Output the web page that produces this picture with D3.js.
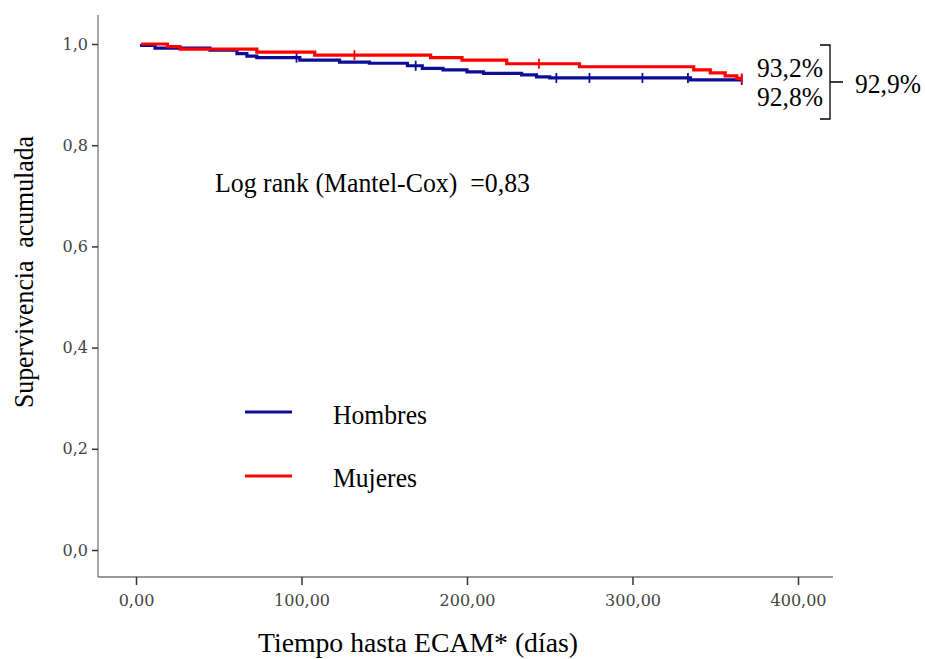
<!DOCTYPE html>
<html><head><meta charset="utf-8">
<script src="https://cdnjs.cloudflare.com/ajax/libs/d3/7.8.5/d3.min.js"></script>
<style>body{margin:0;background:#fff}</style>
</head><body>
<script>
// Data
const hombresTime = [2.4, 11.5, 44.7, 61, 67, 73, 99, 123, 141, 164, 173, 185.5, 200, 210, 233, 242, 250, 335, 366];
const hombresSurv = [0.997, 0.992, 0.988, 0.981, 0.976, 0.973, 0.968, 0.964, 0.962, 0.957, 0.952, 0.949, 0.945, 0.942, 0.939, 0.935, 0.933, 0.929, 0.929];
const hombresCensor = [97, 169, 254, 274, 306, 333.5, 366];
const mujeresTime = [3, 19, 26.6, 73, 108, 178, 197, 224, 268, 337, 347, 356, 363, 366];
const mujeresSurv = [1.0, 0.995, 0.990, 0.984, 0.978, 0.973, 0.968, 0.961, 0.955, 0.949, 0.943, 0.937, 0.932, 0.932];
const mujeresCensor = [132, 243.5, 366];
const xTicks = [0, 100, 200, 300, 400];
const yTicks = [0, 0.2, 0.4, 0.6, 0.8, 1.0];
const groups = ["Hombres", "Mujeres"];
const colors = ["#0c0c96", "#ff0000"];

const W = 925, H = 659;
const svg = d3.select("body").append("svg").attr("width", W).attr("height", H);
const x = d3.scaleLinear().domain([0, 400]).range([136, 798]);
const y = d3.scaleLinear().domain([0, 1]).range([550, 44]);
const fmtX = d => d3.format(".2f")(d).replace(".", ",");
const fmtY = d => d3.format(".1f")(d).replace(".", ",");

function txt(xp, yp, s, len, size) {
  return svg.append("text").attr("x", xp).attr("y", yp)
    .attr("font-family", "Liberation Serif").attr("font-size", size || 27).attr("fill", "#000")
    .attr("textLength", len).attr("lengthAdjust", "spacingAndGlyphs").text(s);
}

// axes
svg.append("line").attr("x1", 98).attr("x2", 98).attr("y1", 15).attr("y2", 577).attr("stroke", "#777").attr("stroke-width", 1.3);
svg.append("line").attr("x1", 98).attr("x2", 833).attr("y1", 577).attr("y2", 577).attr("stroke", "#777").attr("stroke-width", 1.3);

const gy = svg.append("g").attr("transform", "translate(98,0)")
  .call(d3.axisLeft(y).tickValues(yTicks).tickFormat(fmtY).tickSize(6).tickPadding(4));
gy.select(".domain").remove();
gy.selectAll(".tick line").attr("stroke", "#333").attr("stroke-width", 1.5);
gy.selectAll(".tick text").attr("font-family", "DejaVu Serif").attr("font-size", 16).attr("fill", "#444");

const gx = svg.append("g").attr("transform", "translate(0,577)")
  .call(d3.axisBottom(x).tickValues(xTicks).tickFormat(fmtX).tickSize(8).tickPadding(10));
gx.select(".domain").remove();
gx.selectAll(".tick line").attr("stroke", "#333").attr("stroke-width", 1.5);
gx.selectAll(".tick text").attr("font-family", "DejaVu Serif").attr("font-size", 16).attr("fill", "#444");

// titles
svg.append("text").attr("transform", "translate(33,272) rotate(-90)").attr("text-anchor", "middle")
  .attr("font-family", "Liberation Serif").attr("font-size", 27).attr("fill", "#000")
  .attr("textLength", 272).attr("lengthAdjust", "spacingAndGlyphs").text("Supervivencia\u00a0 acumulada");
svg.append("text").attr("x", 418).attr("y", 652).attr("text-anchor", "middle")
  .attr("font-family", "Liberation Serif").attr("font-size", 27).attr("fill", "#000")
  .attr("textLength", 320).attr("lengthAdjust", "spacingAndGlyphs").text("Tiempo hasta ECAM* (días)");

// curves
const line = d3.line().x(d => x(d[0])).y(d => y(d[1])).curve(d3.curveStepAfter);
const series = [
  {t: hombresTime, s: hombresSurv, c: hombresCensor},
  {t: mujeresTime, s: mujeresSurv, c: mujeresCensor}
];
series.forEach((sr, i) => {
  const pts = sr.t.map((t, k) => [t, sr.s[k]]);
  svg.append("path").attr("d", line(pts)).attr("fill", "none").attr("stroke", colors[i]).attr("stroke-width", 3.2);
  sr.c.forEach(ct => {
    let val = sr.s[0];
    sr.t.forEach((t, k) => { if (t <= ct) val = sr.s[k]; });
    svg.append("line").attr("x1", x(ct)).attr("x2", x(ct)).attr("y1", y(val) - 5).attr("y2", y(val) + 5)
      .attr("stroke", colors[i]).attr("stroke-width", 1.8);
  });
});

// legend
groups.forEach((g, i) => {
  const ly = 412 + i * 64;
  svg.append("line").attr("x1", 245).attr("x2", 292).attr("y1", ly).attr("y2", ly).attr("stroke", colors[i]).attr("stroke-width", 3.2);
  txt(333, ly + 12 - i * 1, g, i === 0 ? 94 : 84);
});

// log rank
txt(215, 192, "Log rank (Mantel-Cox)\u00a0 =0,83", 315);

// annotation
const fmtP = v => d3.format(".1f")(v * 100).replace(".", ",") + "%";
txt(757, 77, fmtP(mujeresSurv[mujeresSurv.length - 1]), 66);
txt(757, 106, "92,8%", 66);
svg.append("path").attr("d", "M820,45 H830 V119 H820 M830,82 H843").attr("fill", "none").attr("stroke", "#000").attr("stroke-width", 1.3);
txt(855, 93, "92,9%", 66);
</script>
</body></html>
